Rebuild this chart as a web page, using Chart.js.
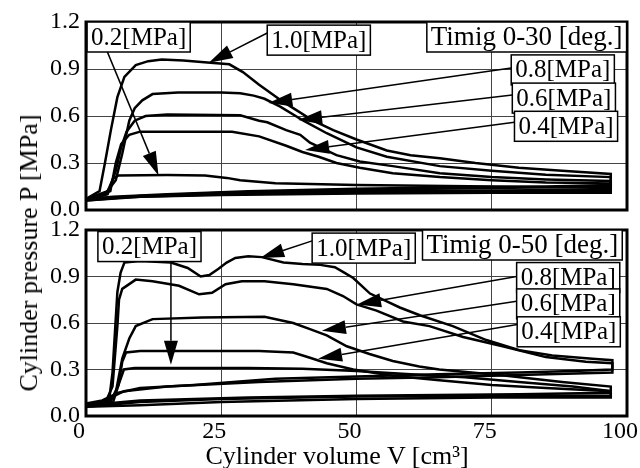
<!DOCTYPE html>
<html lang="en">
<head>
  <meta charset="UTF-8" />
  <title>Cylinder pressure vs volume</title>
  <script src="https://cdn.jsdelivr.net/npm/chart.js"></script>
  <style>
    body { margin: 0; background: #fff; }
    #wrap { position: relative; width: 640px; height: 468px; overflow: hidden; }
    canvas { position: absolute; left: 0; }
    #cTop { top: 0; }
    #cBot { top: 200px; }
    .title { position: absolute; font-family: "Liberation Serif", serif; font-size: 26px; color: #000; white-space: nowrap; }
    #yTitle { left: 29px; top: 253px; transform: translate(-50%, -50%) rotate(-90deg); }
    #xTitle { left: 337px; top: 456px; transform: translate(-50%, -50%); }
  </style>
</head>
<body>
<div id="wrap">
  <canvas id="cTop" width="640" height="222"></canvas>
  <canvas id="cBot" width="640" height="268"></canvas>
  <div class="title" id="yTitle">Cylinder pressure P [MPa]</div>
  <div class="title" id="xTitle">Cylinder volume V [cm³]</div>
</div>

<script>
// ---- data: [V cm3, P MPa] along each loop (upper path, then return path) ----
const xTicks = [0, 25, 50, 75, 100];
const yTicks = [0, 0.3, 0.6, 0.9, 1.2];

// Timig 0-30 [deg.]
const top10 = [[0,0.07],[2.5,0.12],[3.5,0.3],[4.6,0.51],[5.8,0.72],[7.1,0.85],[9.2,0.925],[11.5,0.95],[14,0.96],[18,0.955],[23,0.94],[26.5,0.93],[29,0.88],[32,0.8],[36,0.7],[38.3,0.65],[42,0.57],[45.7,0.51],[50,0.45],[55.6,0.38],[60,0.35],[65.4,0.33],[72,0.3],[80,0.27],[88,0.25],[97,0.23],
               [97,0.16],[85,0.15],[70,0.145],[50,0.135],[30,0.12],[15,0.1],[5,0.085],[0,0.07]];
const top08 = [[0,0.07],[3.5,0.1],[5.5,0.19],[6.7,0.36],[8,0.57],[9,0.65],[10.4,0.7],[12.3,0.74],[17,0.75],[25,0.75],[28.5,0.745],[31,0.73],[33,0.71],[35.9,0.66],[40.2,0.57],[44.5,0.49],[50,0.4],[55.6,0.34],[65.4,0.28],[75,0.25],[85,0.225],[97,0.21],
               [97,0.15],[75,0.14],[50,0.13],[25,0.11],[10,0.09],[0,0.07]];
const top06 = [[0,0.06],[4,0.1],[5.5,0.25],[6.5,0.4],[7.5,0.5],[9,0.57],[11,0.6],[15,0.61],[28.5,0.605],[32,0.57],[33.5,0.56],[37,0.51],[39.6,0.48],[41.4,0.43],[46.3,0.35],[50.6,0.31],[56.7,0.28],[65.4,0.235],[75,0.21],[85,0.195],[97,0.185],
               [97,0.13],[75,0.125],[50,0.12],[25,0.105],[10,0.09],[0,0.06]];
const top04 = [[0,0.06],[4.5,0.12],[5.5,0.3],[6.5,0.42],[8,0.48],[10,0.5],[20,0.5],[27,0.5],[32,0.47],[37,0.41],[40,0.37],[43,0.34],[46.3,0.3],[50.6,0.27],[56.7,0.235],[65.4,0.21],[75,0.19],[85,0.175],[97,0.17],
               [97,0.12],[75,0.115],[50,0.11],[25,0.1],[10,0.085],[0,0.06]];
const top02 = [[0,0.07],[4,0.12],[5,0.2],[6,0.22],[15,0.223],[22,0.22],[26,0.205],[28.5,0.19],[35,0.17],[50,0.16],[75,0.15],[97,0.14],
               [97,0.11],[75,0.11],[50,0.105],[25,0.095],[10,0.085],[0,0.07]];

// Timig 0-50 [deg.]
const bot10 = [[0,0.08],[3,0.08],[4.3,0.11],[4.9,0.28],[5.8,0.8],[6.4,0.925],[7.1,0.99],[10,1.0],[15.7,0.99],[18.8,0.955],[21.2,0.9],[22.8,0.91],[24.5,0.95],[26,0.99],[27.6,1.02],[30,1.03],[32.5,1.025],[36.5,0.99],[40,0.98],[43.3,0.975],[46,0.96],[47.5,0.93],[49.4,0.89],[52.5,0.79],[55.6,0.74],[58,0.7],[61.7,0.65],[67.8,0.58],[74,0.49],[80.1,0.425],[86.2,0.39],[93.6,0.37],[97.3,0.36],
               [97.3,0.3],[90,0.29],[80,0.28],[65,0.27],[50,0.255],[35,0.24],[20,0.2],[10,0.18],[6,0.15],[3,0.1],[0,0.08]];
const bot08 = [[0,0.07],[3.5,0.08],[4.9,0.19],[5.8,0.58],[6.1,0.75],[6.7,0.82],[9.2,0.88],[12.3,0.87],[17.2,0.84],[20.9,0.785],[23.3,0.795],[25.8,0.85],[28.8,0.87],[33,0.87],[38.3,0.85],[44.5,0.82],[47.5,0.774],[50,0.72],[53.7,0.68],[58.6,0.61],[63.5,0.58],[69.7,0.51],[77,0.45],[85,0.38],[92.4,0.35],[97.3,0.34],
               [97.3,0.28],[80,0.265],[65,0.25],[50,0.24],[32,0.22],[15,0.19],[7,0.16],[3,0.09],[0,0.07]];
const bot06 = [[0,0.07],[4,0.08],[5.5,0.15],[6.7,0.37],[8,0.5],[9.2,0.58],[12.3,0.625],[21.5,0.635],[33,0.64],[38.3,0.6],[41.4,0.56],[44.5,0.52],[48.2,0.45],[52.4,0.4],[56.7,0.355],[61.6,0.32],[65.3,0.3],[77.7,0.26],[88,0.22],[97,0.19],
               [97,0.15],[80,0.14],[50,0.13],[30,0.12],[10,0.1],[0,0.07]];
const bot04 = [[0,0.07],[4.5,0.09],[6,0.2],[6.7,0.35],[7.4,0.41],[10,0.42],[20,0.42],[32,0.42],[38.3,0.41],[41.4,0.376],[44.5,0.34],[49.4,0.3],[56.7,0.26],[65.3,0.23],[75,0.2],[85,0.18],[97,0.16],
               [97,0.12],[75,0.12],[50,0.11],[25,0.09],[10,0.07],[0,0.06]];
const bot02 = [[0,0.06],[5,0.09],[6,0.2],[7,0.3],[9,0.31],[30,0.31],[40,0.305],[50,0.29],[60,0.27],[70,0.25],[80,0.22],[90,0.19],[97,0.16],
               [97,0.13],[75,0.13],[50,0.125],[25,0.11],[10,0.09],[0,0.06]];

// annotation boxes (left/top corner in data units) and arrows (from -> tip)
const topLabels = [
  { text: '0.2[MPa]', x: 0.2, y: 1.2 },
  { text: '1.0[MPa]', x: 33.5, y: 1.18 },
  { text: 'Timig 0-30 [deg.]', x: 63.0, y: 1.2, size: 27 },
  { text: '0.8[MPa]', x: 78.6, y: 0.99 },
  { text: '0.6[MPa]', x: 78.8, y: 0.81 },
  { text: '0.4[MPa]', x: 79.2, y: 0.63 }
];
const topArrows = [
  { from: [3.7, 1.03], to: [13.4, 0.22] },
  { from: [33.5, 1.13], to: [22.7, 0.94] },
  { from: [78.6, 0.906], to: [33.7, 0.683] },
  { from: [78.8, 0.734], to: [39.2, 0.574] },
  { from: [79.2, 0.56], to: [40.5, 0.383] }
];
const botLabels = [
  { text: '0.2[MPa]', x: 2.2, y: 1.19 },
  { text: '1.0[MPa]', x: 41.8, y: 1.18 },
  { text: 'Timig 0-50 [deg.]', x: 62.2, y: 1.2, size: 27 },
  { text: '0.8[MPa]', x: 79.6, y: 0.99 },
  { text: '0.6[MPa]', x: 79.6, y: 0.82 },
  { text: '0.4[MPa]', x: 79.7, y: 0.64 }
];
const botArrows = [
  { from: [15.7, 0.99], to: [15.7, 0.33] },
  { from: [41.8, 1.13], to: [32.2, 1.02] },
  { from: [79.6, 0.9], to: [50.1, 0.72] },
  { from: [79.6, 0.74], to: [43.6, 0.55] },
  { from: [79.7, 0.59], to: [42.9, 0.37] }
];

const FONT = '"Liberation Serif", "Times New Roman", serif';

const annotate = {
  id: 'annotate',
  afterDatasetsDraw(chart, args, opts) {
    const { ctx, chartArea: a, scales: { x, y } } = chart;
    ctx.save();
    // thick frame round the plot
    ctx.strokeStyle = '#000';
    ctx.lineWidth = 3;
    ctx.strokeRect(a.left, a.top, a.right - a.left, a.bottom - a.top);

    // arrows
    ctx.lineWidth = 1.5;
    ctx.fillStyle = '#000';
    opts.arrows.forEach(ar => {
      const x0 = x.getPixelForValue(ar.from[0]), y0 = y.getPixelForValue(ar.from[1]);
      const x1 = x.getPixelForValue(ar.to[0]), y1 = y.getPixelForValue(ar.to[1]);
      const ang = Math.atan2(y1 - y0, x1 - x0);
      const len = 24, hw = 7;
      const bx = x1 - len * Math.cos(ang), by = y1 - len * Math.sin(ang);
      ctx.beginPath();
      ctx.moveTo(x0, y0);
      ctx.lineTo(bx, by);
      ctx.stroke();
      ctx.beginPath();
      ctx.moveTo(x1, y1);
      ctx.lineTo(bx + hw * Math.sin(ang), by - hw * Math.cos(ang));
      ctx.lineTo(bx - hw * Math.sin(ang), by + hw * Math.cos(ang));
      ctx.closePath();
      ctx.fill();
    });

    // boxed labels
    ctx.textBaseline = 'middle';
    opts.labels.forEach(l => {
      ctx.font = (l.size || 25) + 'px ' + FONT;
      const bx = x.getPixelForValue(l.x), by = y.getPixelForValue(l.y);
      const w = ctx.measureText(l.text).width + 8, h = 30;
      ctx.fillStyle = '#fff';
      ctx.fillRect(bx, by, w, h);
      ctx.strokeStyle = '#000';
      ctx.lineWidth = 1.5;
      ctx.strokeRect(bx, by, w, h);
      ctx.fillStyle = '#000';
      ctx.fillText(l.text, bx + 4, by + h / 2 + 1);
    });
    ctx.restore();
  }
};

function toSet(points) {
  return {
    data: points.map(p => ({ x: p[0], y: p[1] })),
    showLine: true,
    borderColor: '#000',
    borderWidth: 2.5,
    pointRadius: 0,
    tension: 0,
    fill: false
  };
}

function noPad(s) {
  s.paddingLeft = 0; s.paddingRight = 0; s.paddingTop = 0; s.paddingBottom = 0;
}

function makeChart(id, curves, labels, arrows, showX, pad) {
  return new Chart(document.getElementById(id), {
    type: 'scatter',
    data: { datasets: curves.map(toSet) },
    options: {
      responsive: false,
      animation: false,
      devicePixelRatio: 1,
      layout: { padding: pad },
      plugins: {
        legend: { display: false },
        tooltip: { enabled: false },
        annotate: { labels, arrows }
      },
      scales: {
        x: {
          type: 'linear', min: 0, max: 100,
          afterBuildTicks: s => { s.ticks = xTicks.map(v => ({ value: v })); },
          afterFit: s => { s.height = showX ? 52 : 0; noPad(s); },
          grid: { color: '#444', lineWidth: 1, drawTicks: false },
          border: { display: false },
          ticks: {
            display: showX, color: '#000', padding: 4, labelOffset: -7,
            maxRotation: 0, autoSkip: false,
            font: { family: FONT, size: 24, lineHeight: 1 }
          }
        },
        y: {
          type: 'linear', min: 0, max: 1.2,
          afterBuildTicks: s => { s.ticks = yTicks.map(v => ({ value: v })); },
          afterFit: s => { s.width = 86; noPad(s); },
          grid: { color: '#444', lineWidth: 1, drawTicks: false },
          border: { display: false },
          ticks: {
            color: '#000', padding: 6,
            font: { family: FONT, size: 24, lineHeight: 1 },
            callback: v => v.toFixed(1)
          }
        }
      }
    },
    plugins: [annotate]
  });
}

makeChart('cTop', [top10, top08, top06, top04, top02], topLabels, topArrows, false,
  { left: 0, right: 13, top: 22, bottom: 12 });
makeChart('cBot', [bot10, bot08, bot06, bot04, bot02], botLabels, botArrows, true,
  { left: 0, right: 13, top: 30, bottom: 0 });
</script>
</body>
</html>
